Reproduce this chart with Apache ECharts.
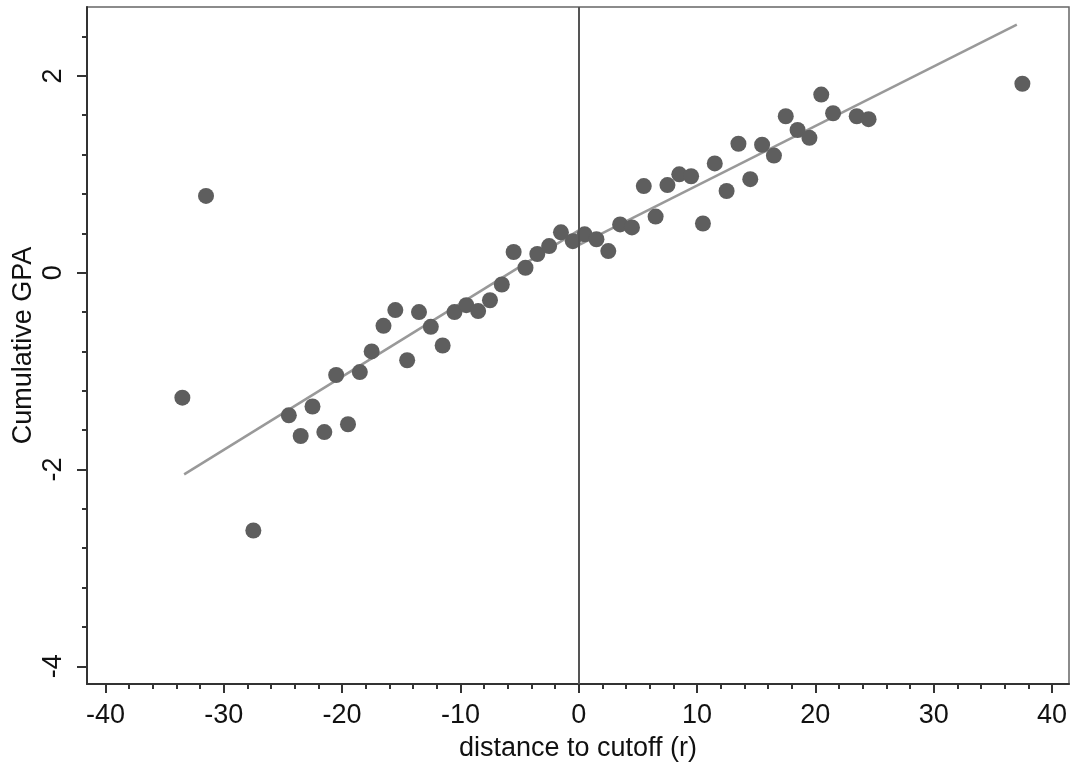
<!DOCTYPE html>
<html>
<head>
<meta charset="utf-8">
<script src="https://cdn.jsdelivr.net/npm/echarts@6/dist/echarts.min.js"></script>
<style>
html,body{margin:0;padding:0;background:#fff;}
#chart{width:1072px;height:767px;}
</style>
</head>
<body>
<div id="chart"></div>
<script>
// Binned data: distance to cutoff (bin centres) and mean cumulative GPA
var distance = [-33.5,-31.5,-27.5,-24.5,-23.5,-22.5,-21.5,-20.5,-19.5,-18.5,-17.5,-16.5,-15.5,-14.5,-13.5,-12.5,-11.5,-10.5,-9.5,-8.5,-7.5,-6.5,-5.5,-4.5,-3.5,-2.5,-1.5,-0.5,
                0.5,1.5,2.5,3.5,4.5,5.5,6.5,7.5,8.5,9.5,10.5,11.5,12.5,13.5,14.5,15.5,16.5,17.5,18.5,19.5,20.5,21.5,23.5,24.5,37.5];
var gpa = [-1.27,0.78,-2.62,-1.45,-1.66,-1.36,-1.62,-1.04,-1.54,-1.01,-0.80,-0.54,-0.38,-0.89,-0.40,-0.55,-0.74,-0.40,-0.33,-0.39,-0.28,-0.12,0.21,0.05,0.19,0.27,0.41,0.32,
           0.39,0.34,0.22,0.49,0.46,0.88,0.57,0.89,1.00,0.98,0.50,1.11,0.83,1.31,0.95,1.30,1.19,1.59,1.45,1.37,1.81,1.62,1.59,1.56,1.92];
// Fitted lines (endpoints)
var fitLeftX = [-33.35, 0];
var fitLeftY = [-2.05, 0.43];
var fitRightX = [0, 37.03];
var fitRightY = [0.28, 2.52];
// Tick values
var xMajorTicks = [-40,-30,-20,-10,0,10,20,30,40];
var xMinorTicks = [-40,-38,-36,-34,-32,-30,-28,-26,-24,-22,-20,-18,-16,-14,-12,-10,-8,-6,-4,-2,0,2,4,6,8,10,12,14,16,18,20,22,24,26,28,30,32,34,36,38,40];
var yMajorTicks = [-4,-2,0,2];
var yMinorTicks = [-4,-3.6,-3.2,-2.8,-2.4,-2,-1.6,-1.2,-0.8,-0.4,0,0.4,0.8,1.2,1.6,2,2.4];
var cutoff = 0;

var points = distance.map(function(d,i){return [d, gpa[i]];});
var leftLine = fitLeftX.map(function(d,i){return [d, fitLeftY[i]];});
var rightLine = fitRightX.map(function(d,i){return [d, fitRightY[i]];});

var FONT = 'Liberation Sans, Arial, Helvetica, sans-serif';
var XMIN = -41.56, XMAX = 41.44, YMIN = -4.18, YMAX = 2.70;

var chart = echarts.init(document.getElementById('chart'), null, {renderer:'canvas'});
chart.setOption({
  animation: false,
  backgroundColor: '#fff',
  grid: {left: 87, right: 3, top: 7, bottom: 83, show: true, borderColor: '#666', borderWidth: 1.5,
         backgroundColor: 'transparent', containLabel: false, outerBoundsMode: 'none'},
  xAxis: [{
    type: 'value', min: XMIN, max: XMAX, position: 'bottom',
    name: 'distance to cutoff (r)', nameLocation: 'middle', nameGap: 51, nameMoveOverlap: false,
    nameTextStyle: {fontFamily: FONT, fontSize: 27, color: '#111'},
    axisLine: {show: true, onZero: false, lineStyle: {color: '#333', width: 2}},
    axisTick: {show: true, customValues: xMajorTicks, length: 9, lineStyle: {color: '#333', width: 2}},
    axisLabel: {show: true, customValues: xMajorTicks, margin: 18, fontFamily: FONT, fontSize: 27, color: '#111'},
    splitLine: {show: false}
  },{
    type: 'value', min: XMIN, max: XMAX, position: 'bottom',
    axisLine: {show: false, onZero: false},
    axisTick: {show: true, customValues: xMinorTicks, length: 5, lineStyle: {color: '#333', width: 2}},
    axisLabel: {show: false},
    splitLine: {show: false}
  }],
  yAxis: [{
    type: 'value', min: YMIN, max: YMAX, position: 'left',
    name: 'Cumulative GPA', nameLocation: 'middle', nameGap: 50, nameRotate: 90, nameMoveOverlap: false,
    nameTextStyle: {fontFamily: FONT, fontSize: 27, color: '#111'},
    axisLine: {show: true, onZero: false, lineStyle: {color: '#333', width: 2}},
    axisTick: {show: true, customValues: yMajorTicks, length: 10, lineStyle: {color: '#333', width: 2}},
    axisLabel: {show: true, customValues: yMajorTicks, rotate: 90, margin: 20, fontFamily: FONT, fontSize: 27, color: '#111'},
    splitLine: {show: false}
  },{
    type: 'value', min: YMIN, max: YMAX, position: 'left',
    axisLine: {show: false, onZero: false},
    axisTick: {show: true, customValues: yMinorTicks, length: 5, lineStyle: {color: '#333', width: 2}},
    axisLabel: {show: false},
    splitLine: {show: false}
  }],
  series: [
    {
      type: 'line', data: leftLine, symbol: 'none', xAxisIndex: 0, yAxisIndex: 0,
      lineStyle: {color: '#999', width: 2.5}, z: 3,
      markLine: {
        silent: true, symbol: ['none','none'], label: {show: false},
        lineStyle: {color: '#555', width: 2, type: 'solid'},
        data: [[{coord: [cutoff, YMIN]}, {coord: [cutoff, YMAX]}]]
      }
    },
    {
      type: 'line', data: rightLine, symbol: 'none', xAxisIndex: 0, yAxisIndex: 0,
      lineStyle: {color: '#999', width: 2.5}, z: 3
    },
    {
      type: 'scatter', data: points, symbol: 'circle', symbolSize: 16,
      xAxisIndex: 0, yAxisIndex: 0,
      itemStyle: {color: '#5e5e5e', opacity: 1}, z: 4
    }
  ]
});
</script>
</body>
</html>
